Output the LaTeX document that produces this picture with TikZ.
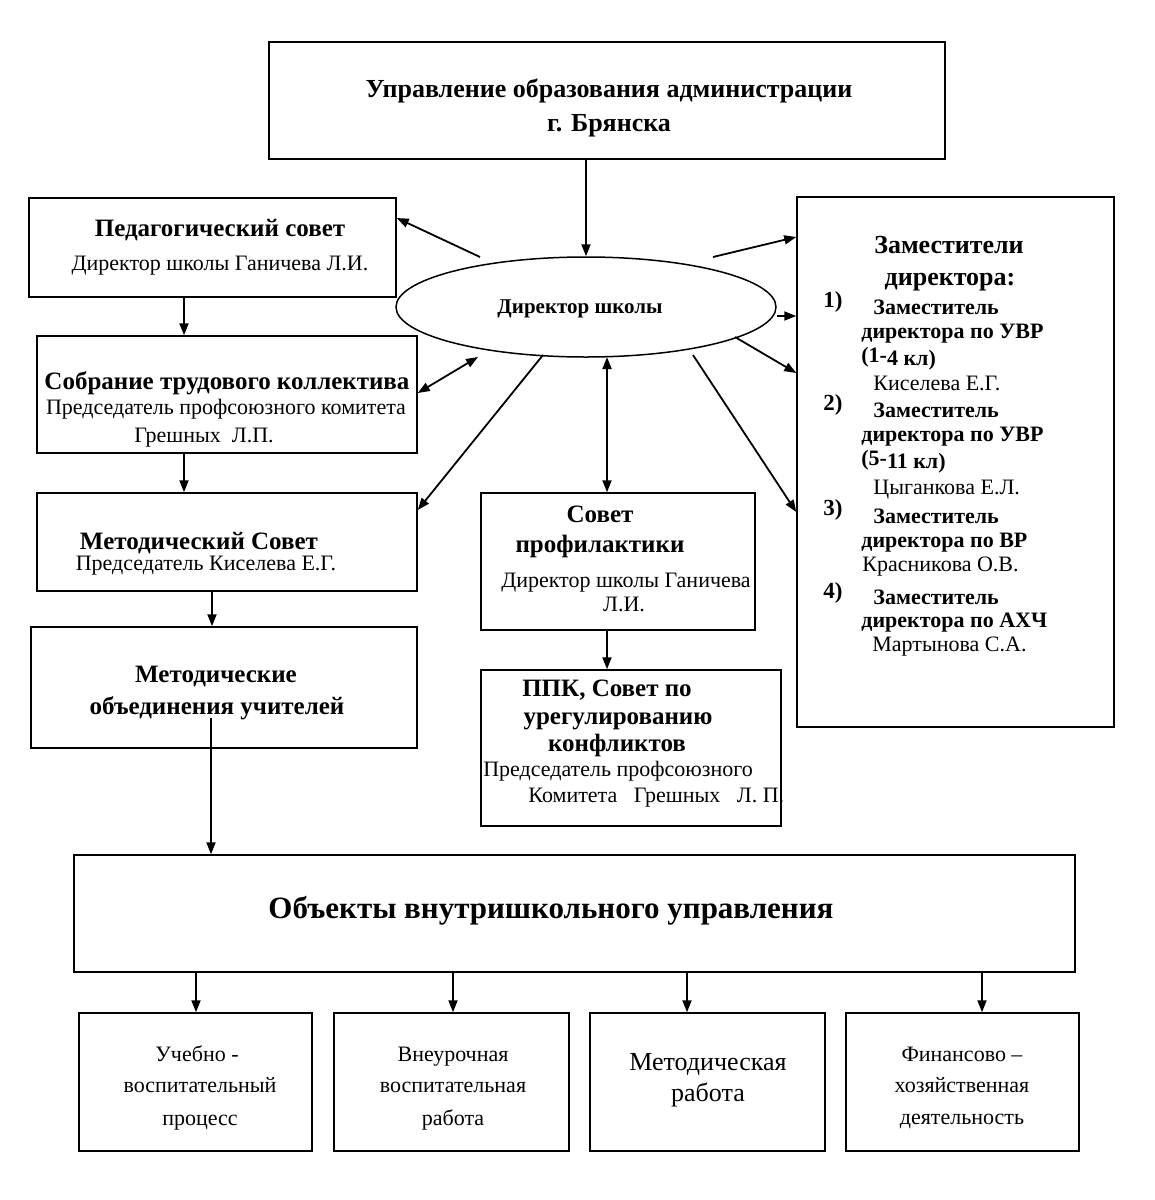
\documentclass[tikz,border=0pt]{standalone}
\usepackage{fontspec}
\setmainfont{Liberation Serif}
\usetikzlibrary{arrows.meta,fit,shapes.geometric}

\newcommand{\fupr}{\bfseries\fontsize{13}{15}\selectfont}
\newcommand{\ftit}{\bfseries\fontsize{12.5}{14}\selectfont}
\newcommand{\fsub}{\fontsize{11}{13}\selectfont}
\newcommand{\fdep}{\bfseries\fontsize{11}{13}\selectfont}
\newcommand{\fnum}{\bfseries\fontsize{11.5}{13}\selectfont}
\newcommand{\fobj}{\bfseries\fontsize{15.5}{18}\selectfont}

\tikzset{
  box/.style={draw, line width=0.75pt, inner sep=0pt},
  arr/.style={line width=0.9pt, -{Triangle[length=6pt,width=4.5pt]}},
  darr/.style={line width=0.9pt, {Triangle[length=6pt,width=4.5pt]}-{Triangle[length=6pt,width=4.5pt]}},
  txt/.style={inner sep=0pt, anchor=mid},
  ltxt/.style={inner sep=0pt, anchor=mid west},
}

\begin{document}
\begin{tikzpicture}[x=0.5pt, y=-0.5pt]
	\useasboundingbox (0,0) rectangle (1155,1200);
	
	% boxes
	\node[box, fit={(269,42) (945,159)}] (upr) {};
	\node[box, fit={(29,198) (396,297)}] (ped) {};
	\node[box, fit={(37,336) (417,453)}] (sob) {};
	\node[box, fit={(37,493) (417,591)}] (met) {};
	\node[box, fit={(31,627) (417,748)}] (mob) {};
	\node[box, fit={(481,493) (755,630)}] (sov) {};
	\node[box, fit={(481,670) (781,826)}] (ppk) {};
	\node[box, fit={(797,197) (1114,727)}] (dep) {};
	\node[box, fit={(74,855) (1075,972)}] (obj) {};
	\node[box, fit={(79,1013) (312,1151)}] (b1) {};
	\node[box, fit={(334,1013) (569,1151)}] (b2) {};
	\node[box, fit={(590,1013) (825,1151)}] (b3) {};
	\node[box, fit={(846,1013) (1079,1151)}] (b4) {};
	\node[box, ellipse, minimum width=190pt, minimum height=50pt] (dir) at (586,307) {};
	\node[txt, font=\bfseries\fontsize{10.5}{12}\selectfont] (dir1) at (580,309) {Директор школы};
	
	% texts
	\node[txt, font=\fupr] (upr1) at (609,93) {Управление образования администрации};
	\node[txt, font=\fupr] (upr2) at (609,127) {г. Брянска};
	
	\node[txt, font=\ftit] (ped1) at (220,232) {Педагогический совет};
	\node[txt, font=\fsub] (ped2) at (220,266) {Директор школы Ганичева Л.И.};
	
	\node[txt, font=\ftit] (sob1) at (227,385) {Собрание трудового коллектива};
	\node[txt, font=\fsub] (sob2) at (226,410) {Председатель профсоюзного комитета};
	\node[txt, font=\fsub] (sob3) at (204,438) {Грешных~ Л.П.};
	
	\node[txt, font=\ftit] (met1) at (199,545) {Методический Совет};
	\node[txt, font=\fsub] (met2) at (206,566) {Председатель Киселева Е.Г.};
	
	\node[txt, font=\ftit] (mob1) at (216,678) {Методические};
	\node[txt, font=\ftit] (mob2) at (217,710) {объединения учителей};
	
	\node[txt, font=\ftit] (sov1) at (600,518) {Совет};
	\node[txt, font=\ftit] (sov2) at (600,548) {профилактики};
	\node[txt, font=\fsub] (sov3) at (626,583) {Директор школы Ганичева};
	\node[txt, font=\fsub] (sov4) at (624,607) {Л.И.};
	
	\node[txt, font=\ftit] (ppk1) at (607,692) {ППК, Совет по};
	\node[txt, font=\ftit] (ppk2) at (618,720) {урегулированию};
	\node[txt, font=\ftit] (ppk3) at (617,747) {конфликтов};
	\node[txt, font=\fsub] (ppk4) at (618,772) {Председатель профсоюзного};
	\node[ltxt, font=\fsub] (ppk5) at (528,798) {Комитета~~ Грешных~~ Л. П.};
	
	\node[txt, font=\fupr] (dep1) at (949,249) {Заместители};
	\node[txt, font=\fupr] (dep2) at (950,281) {директора:};
	\node[ltxt, font=\fnum] (n1) at (823,303) {1)};
	\node[ltxt, font=\fdep] (z1) at (873,310) {Заместитель};
	\node[ltxt, font=\fdep] (d1) at (861,334) {директора по УВР};
	\node[ltxt, font=\fdep] (k1) at (861,361) {\raisebox{1.5pt}{(1-}4 кл)};
	\node[ltxt, font=\fsub] (f1) at (873,386) {Киселева Е.Г.};
	\node[ltxt, font=\fnum] (n2) at (823,406) {2)};
	\node[ltxt, font=\fdep] (z2) at (873,413) {Заместитель};
	\node[ltxt, font=\fdep] (d2) at (861,437) {директора по УВР};
	\node[ltxt, font=\fdep] (k2) at (861,464) {\raisebox{1.5pt}{(5-}11 кл)};
	\node[ltxt, font=\fsub] (f2) at (873,490) {Цыганкова Е.Л.};
	\node[ltxt, font=\fnum] (n3) at (823,511) {3)};
	\node[ltxt, font=\fdep] (z3) at (873,519) {Заместитель};
	\node[ltxt, font=\fdep] (d3) at (861,543) {директора по ВР};
	\node[ltxt, font=\fsub] (f3) at (862,567) {Красникова О.В.};
	\node[ltxt, font=\fnum] (n4) at (823,594) {4)};
	\node[ltxt, font=\fdep] (z4) at (873,600) {Заместитель};
	\node[ltxt, font=\fdep] (d4) at (861,623) {директора по АХЧ};
	\node[ltxt, font=\fsub] (f4) at (872,647) {Мартынова С.А.};
	
	\node[txt, font=\fobj] (obj1) at (551,914) {Объекты внутришкольного управления};
	
	\node[txt, font=\fsub] (b11) at (197,1057) {Учебно -};
	\node[txt, font=\fsub] (b12) at (200,1088) {воспитательный};
	\node[txt, font=\fsub] (b13) at (200,1121) {процесс};
	\node[txt, font=\fsub] (b21) at (453,1057) {Внеурочная};
	\node[txt, font=\fsub] (b22) at (453,1088) {воспитательная};
	\node[txt, font=\fsub] (b23) at (453,1121) {работа};
	\node[txt, font=\fontsize{13}{15}\selectfont] (b31) at (708,1066) {Методическая};
	\node[txt, font=\fontsize{13}{15}\selectfont] (b32) at (708,1097) {работа};
	\node[txt, font=\fsub] (b41) at (962,1057) {Финансово –};
	\node[txt, font=\fsub] (b42) at (962,1088) {хозяйственная};
	\node[txt, font=\fsub] (b43) at (962,1120) {деятельность};
	
	% free ends of connectors
	\coordinate (t1) at (480,257);
	\coordinate (t2) at (478,357);
	\coordinate (t3) at (543,355);
	\coordinate (t4) at (211,718);
	\coordinate (t5) at (607,357);
	\coordinate (t6) at (713,257);
	\coordinate (t7) at (777,316);
	\coordinate (t8) at (735,337);
	\coordinate (t9) at (693,355);
	
	% connectors
	\draw[arr] (upr.south -| dir.north) -- (dir.north);
	\draw[arr] (t1) -- (ped.east |- 0,218);
	\draw[arr] (ped.south -| 184,0) -- (sob.north -| 184,0);
	\draw[darr] (sob.east |- 0,393) -- (t2);
	\draw[arr] (sob.south -| 184,0) -- (met.north -| 184,0);
	\draw[arr] (t3) -- (met.east |- 0,510);
	\draw[arr] (met.south -| 212,0) -- (mob.north -| 212,0);
	\draw[arr] (t4) -- (obj.north -| t4);
	\draw[darr] (t5) -- (sov.north -| t5);
	\draw[arr] (sov.south -| t5) -- (ppk.north -| t5);
	\draw[arr] (t6) -- (dep.west |- 0,237);
	\draw[arr] (t7) -- (dep.west |- t7);
	\draw[arr] (t8) -- (dep.west |- 0,373);
	\draw[arr] (t9) -- (dep.west |- 0,512);
	\foreach \b/\x in {b1/196, b2/453, b3/687, b4/982}
		\draw[arr] (obj.south -| \x,0) -- (\b.north -| \x,0);
	
\end{tikzpicture}
\end{document}
